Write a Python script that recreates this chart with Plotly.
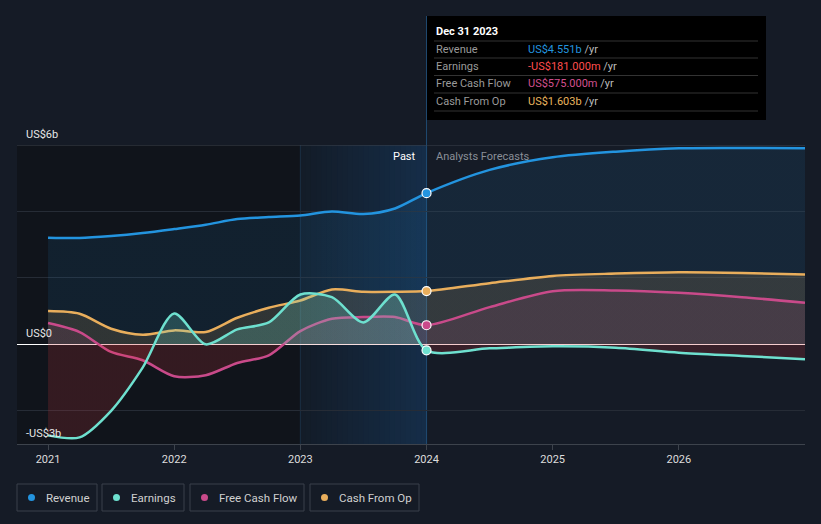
import plotly.graph_objects as go

# ---- data (US$ billions) ----
x_vals = [2021.0, 2021.25, 2021.5, 2021.75, 2022.0, 2022.25, 2022.5, 2022.75,
          2023.0, 2023.25, 2023.5, 2023.75, 2024.0,
          2024.5, 2025.0, 2025.5, 2026.0, 2026.5, 2027.0]
revenue = [3.21, 3.2, 3.26, 3.35, 3.47, 3.6, 3.77, 3.83,
           3.88, 4.0, 3.92, 4.09, 4.551,
           5.25, 5.63, 5.8, 5.9, 5.91, 5.9]
earnings = [-2.74, -2.8, -2.0, -0.7, 0.93, 0.0, 0.45, 0.66,
            1.5, 1.42, 0.66, 1.5, -0.181,
            -0.12, -0.06, -0.1, -0.25, -0.35, -0.45]
fcf = [0.64, 0.37, -0.23, -0.48, -0.96, -0.93, -0.56, -0.33,
       0.4, 0.77, 0.82, 0.82, 0.575,
       1.12, 1.6, 1.62, 1.55, 1.42, 1.25]
cfo = [1.0, 0.92, 0.47, 0.29, 0.42, 0.37, 0.8, 1.1,
       1.32, 1.65, 1.58, 1.58, 1.603,
       1.84, 2.06, 2.13, 2.17, 2.15, 2.1]

series_names = ["Revenue", "Earnings", "Free Cash Flow", "Cash From Op"]
series_colors = ["#2394df", "#6ee0cf", "#c94a8a", "#e9ae5c"]
fill_alpha = [0.10, 0.22, 0.12, 0.14]
tick_years = [2021, 2022, 2023, 2024, 2025, 2026]
tip_date = "Dec 31 2023"
tip_values = ["US$4.551b", "-US$181.000m", "US$575.000m", "US$1.603b"]
tip_colors = ["#2394df", "#ff4d4d", "#d2508f", "#e8b45e"]
y_labels = [(6, "US$6b"), (0, "US$0"), (-3, "-US$3b")]

X0, X1 = 2020.754, 2027.0
Y0, Y1 = -3, 6
BG = "#151b26"

# plot area in pixels
PL, PR, PT, PB = 17, 805, 145, 444


def px_x(px):
    return (px - PL) / (PR - PL)


def px_y(py):
    return (PB - py) / (PB - PT)


def dx(v):
    return (v - X0) / (X1 - X0)


def hex_rgba(h, a):
    h = h.lstrip("#")
    r, g, b = int(h[0:2], 16), int(h[2:4], 16), int(h[4:6], 16)
    return f"rgba({r},{g},{b},{a})"


fig = go.Figure()

split = (0 - Y0) / (Y1 - Y0)
red = "rgba(215,55,60,0.18)"
order = [0, 3, 2, 1]
data = [revenue, earnings, fcf, cfo]
for i in order:
    col = series_colors[i]
    fc = hex_rgba(col, fill_alpha[i])
    fig.add_trace(go.Scatter(
        x=x_vals, y=data[i], mode="lines", name=series_names[i],
        line=dict(color=col, width=2.5, shape="spline", smoothing=0.8),
        fill="tozeroy",
        fillgradient=dict(type="vertical", start=Y0, stop=Y1,
                          colorscale=[[0, red], [split, red],
                                      [split + 0.0005, fc], [1, fc]]),
        hoverinfo="skip", showlegend=False,
    ))

# markers at the hovered date
idx = x_vals.index(2024.0)
for i in range(4):
    fig.add_trace(go.Scatter(
        x=[x_vals[idx]], y=[data[i][idx]], mode="markers",
        marker=dict(color=series_colors[i], size=9,
                    line=dict(color="white", width=1.2)),
        hoverinfo="skip", showlegend=False, cliponaxis=False,
    ))

shapes = []
# darker past background
shapes.append(dict(type="rect", xref="paper", yref="paper",
                   x0=0, x1=dx(2023), y0=0, y1=1, layer="below",
                   fillcolor="#10141b", line=dict(width=0)))
# highlighted band with gradient
n = 24
c0 = (19, 28, 40)
c1 = (21, 45, 72)
for k in range(n):
    t = k / (n - 1)
    c = tuple(int(round(c0[j] + (c1[j] - c0[j]) * t)) for j in range(3))
    xa = 2023 + k / n
    xb = 2023 + (k + 1) / n
    shapes.append(dict(type="rect", xref="paper", yref="paper",
                       x0=dx(xa), x1=dx(xb) + 0.0008, y0=0, y1=1, layer="below",
                       fillcolor=f"rgb({c[0]},{c[1]},{c[2]})", line=dict(width=0)))
shapes.append(dict(type="line", xref="paper", yref="paper",
                   x0=dx(2023), x1=dx(2023), y0=0, y1=1, layer="below",
                   line=dict(color="#1b2f44", width=1)))
# top grid line
shapes.append(dict(type="line", xref="paper", yref="y", x0=0, x1=1,
                   y0=6, y1=6, line=dict(color="#3d434c", width=1)))
# hover line
shapes.append(dict(type="line", xref="paper", yref="paper",
                   x0=dx(2024), x1=dx(2024), y0=0, y1=px_y(16),
                   line=dict(color="#1f4a70", width=1), layer="below"))
# tooltip box
shapes.append(dict(type="rect", xref="paper", yref="paper",
                   x0=px_x(427), x1=px_x(766), y0=px_y(120), y1=px_y(16),
                   fillcolor="#000000", line=dict(width=0)))
for sy in [41, 58, 75.5, 93, 111]:
    shapes.append(dict(type="line", xref="paper", yref="paper",
                       x0=px_x(434), x1=px_x(758), y0=px_y(sy), y1=px_y(sy),
                       line=dict(color="#333333", width=1)))

# legend boxes
legend_boxes = [(17, 97), (102, 184), (190, 304), (310, 419)]
for (a, b), col in zip(legend_boxes, series_colors):
    shapes.append(dict(type="rect", xref="paper", yref="paper",
                       x0=px_x(a), x1=px_x(b), y0=px_y(511), y1=px_y(484),
                       line=dict(color="#3a404b", width=1)))
    shapes.append(dict(type="circle", xref="paper", yref="paper",
                       x0=px_x(a + 11), x1=px_x(a + 18), y0=px_y(501), y1=px_y(494),
                       fillcolor=col, line=dict(width=0)))

annotations = []
FONT = "Roboto"
# tooltip texts
annotations.append(dict(xref="paper", yref="paper", x=px_x(434), y=px_y(31),
                        xanchor="left", yanchor="middle", showarrow=False,
                        text="<b>" + tip_date + "</b>",
                        font=dict(family=FONT, size=11, color="#ffffff")))
rows_y = [49.5, 66.5, 84, 101.5]
for name, val, col, ry in zip(series_names, tip_values, tip_colors, rows_y):
    annotations.append(dict(xref="paper", yref="paper", x=px_x(434), y=px_y(ry),
                            xanchor="left", yanchor="middle", showarrow=False,
                            text=name, font=dict(family=FONT, size=11, color="#9a9a9a")))
    annotations.append(dict(xref="paper", yref="paper", x=px_x(526), y=px_y(ry),
                            xanchor="left", yanchor="middle", showarrow=False,
                            text=f"<span style='color:{col}'>{val}</span> /yr",
                            font=dict(family=FONT, size=11, color="#bbbbbb")))
# past / forecast labels
annotations.append(dict(xref="paper", yref="paper", x=px_x(418), y=px_y(156),
                        xanchor="right", yanchor="middle", showarrow=False,
                        text="Past", font=dict(family=FONT, size=11, color="#ffffff")))
annotations.append(dict(xref="paper", yref="paper", x=px_x(434), y=px_y(156),
                        xanchor="left", yanchor="middle", showarrow=False,
                        text="Analysts Forecasts",
                        font=dict(family=FONT, size=11, color="#8a8f98")))
# y labels
for v, t in y_labels:
    annotations.append(dict(xref="paper", yref="y", x=px_x(24), y=v,
                            xanchor="left", yanchor="bottom", yshift=2, showarrow=False,
                            text=t, font=dict(family=FONT, size=11, color="#e6e6e6")))
# legend labels
for (a, b), name in zip(legend_boxes, series_names):
    annotations.append(dict(xref="paper", yref="paper", x=px_x(a + 27), y=px_y(497.5),
                            xanchor="left", yanchor="middle", showarrow=False,
                            text=name, font=dict(family=FONT, size=11.5, color="#d0d0d0")))

fig.update_layout(
    width=821, height=524,
    margin=dict(l=PL, r=821 - PR, t=PT, b=524 - PB),
    paper_bgcolor=BG, plot_bgcolor=BG,
    shapes=shapes, annotations=annotations,
    showlegend=False,
    font=dict(family=FONT, size=11, color="#dddddd"),
    xaxis=dict(range=[X0, X1], tickvals=tick_years,
               ticktext=[str(y) for y in tick_years],
               showgrid=False, zeroline=False, showline=True,
               linecolor="#3d434c", linewidth=1,
               ticks="outside", ticklen=5, tickcolor="#3d434c",
               tickfont=dict(family=FONT, size=11, color="#dddddd")),
    yaxis=dict(range=[Y0, Y1], tickvals=[-2, 0, 2, 4], showticklabels=False,
               showgrid=True, gridcolor="#262c36", gridwidth=1,
               zeroline=True, zerolinecolor="#ffffff", zerolinewidth=1),
)

fig.write_html("out.html", config={"displayModeBar": False},
               post_script="document.body.style.margin='0';document.body.style.background='" + BG + "';")
